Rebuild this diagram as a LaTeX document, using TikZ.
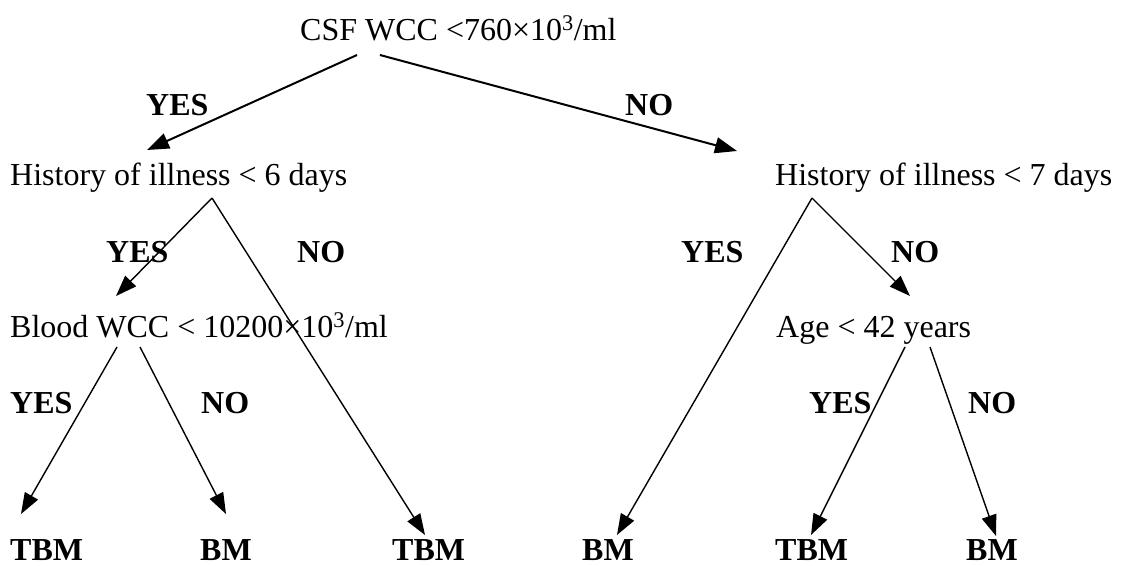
\documentclass[tikz,border=0pt]{standalone}
\usepackage{fontspec}
\setmainfont{Liberation Serif}
\usetikzlibrary{arrows.meta}
\begin{document}
\begin{tikzpicture}[x=1pt,y=-1pt,
  txt/.style={anchor=base west,inner sep=0pt,font=\fontsize{32}{38}\selectfont},
  lbl/.style={anchor=base west,inner sep=0pt,font=\fontsize{32}{38}\selectfont\bfseries},
  arr/.style={line width=1.4pt,-{Triangle[length=21pt,width=15pt]}},
  arrb/.style={line width=2pt,-{Triangle[length=22pt,width=16pt]}}]
\path[use as bounding box,fill=white] (0,0) rectangle (1121,565);
% condition nodes
\node[txt] (csf) at (300,40) {CSF WCC <760×10\textsuperscript{3}/ml};
\node[txt] (h6) at (10,185) {History of illness < 6 days};
\node[txt] (h7) at (775,185) {History of illness < 7 days};
\node[txt] (blood) at (10,337) {Blood WCC < 10200×10\textsuperscript{3}/ml};
\node[txt] (age) at (776,337) {Age < 42 years};
% outcome nodes
\node[lbl] (o1) at (10,560) {TBM};
\node[lbl] (o2) at (200,560) {BM};
\node[lbl] (o3) at (392,560) {TBM};
\node[lbl] (o4) at (582,560) {BM};
\node[lbl] (o5) at (775,560) {TBM};
\node[lbl] (o6) at (966,560) {BM};
% branch labels
\node[lbl] (y1) at (146,115) {YES};
\node[lbl] (n1) at (625,115) {NO};
\node[lbl] (y2) at (106,262) {YES};
\node[lbl] (n2) at (297,262) {NO};
\node[lbl] (y3) at (681,262) {YES};
\node[lbl] (n3) at (891,262) {NO};
\node[lbl] (y4) at (10,413) {YES};
\node[lbl] (n4) at (201,413) {NO};
\node[lbl] (y5) at (809,413) {YES};
\node[lbl] (n5) at (968,413) {NO};
% connector ends
\coordinate (csfY) at (357,55);
\coordinate (csfN) at (380,55);
\coordinate (h6t) at (147,150);
\coordinate (h7t) at (737,151);
\coordinate (h6a) at (212,198);
\coordinate (h7a) at (812,198);
\coordinate (bloodt) at (116,296);
\coordinate (aget) at (910,296);
\coordinate (bY) at (117,347);
\coordinate (bN) at (140,347);
\coordinate (aY) at (905,347);
\coordinate (aN) at (930,347);
\coordinate (t1) at (21,514);
\coordinate (t2) at (226,514);
\coordinate (t3) at (425,535);
\coordinate (t4) at (617,535);
\coordinate (t5) at (811,535);
\coordinate (t6) at (996,536);
% connectors
\draw[arrb] (csfY) -- (h6t);
\draw[arrb] (csfN) -- (h7t);
\draw[arr] (h6a) -- (bloodt);
\draw[arr] (h6a) -- (t3);
\draw[arr] (h7a) -- (t4);
\draw[arr] (h7a) -- (aget);
\draw[arr] (bY) -- (t1);
\draw[arr] (bN) -- (t2);
\draw[arr] (aY) -- (t5);
\draw[arr] (aN) -- (t6);
\end{tikzpicture}
\end{document}
